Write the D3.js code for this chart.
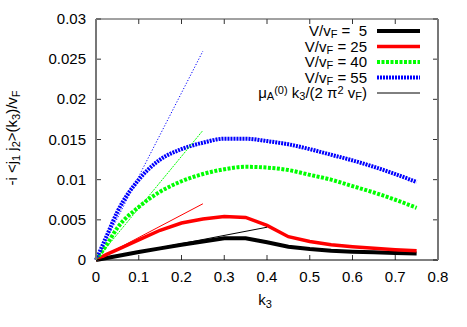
<!DOCTYPE html>
<html><head><meta charset="utf-8">
<script src="https://cdn.jsdelivr.net/npm/d3@7"></script>
<style>body{margin:0;background:#fff}svg text{font-family:"Liberation Sans",Arial,sans-serif;font-size:15px;fill:#000;white-space:pre}</style>
</head><body>
<svg id="c" width="467" height="327"></svg>
<script>
const kValues = [0,0.025,0.05,0.1,0.15,0.2,0.25,0.3,0.35,0.4,0.45,0.5,0.55,0.6,0.65,0.7,0.75];
const v5  = [0,0.00025,0.0005,0.0010,0.00145,0.0019,0.0023,0.0027,0.0027,0.0022,0.00165,0.00136,0.00116,0.00103,0.00095,0.00087,0.0008];
const v25 = [0,0.0007,0.0013,0.0025,0.0037,0.0046,0.0051,0.0054,0.0053,0.0043,0.0029,0.0023,0.0019,0.00165,0.00145,0.00128,0.00115];
const v40 = [0,0.0019,0.0040,0.0066,0.0085,0.0098,0.0107,0.0113,0.0116,0.0115,0.0112,0.0106,0.0100,0.0092,0.0084,0.0075,0.0065];
const v55 = [0,0.0030,0.0060,0.0100,0.0125,0.0138,0.0146,0.0151,0.0151,0.0148,0.0144,0.0138,0.0131,0.0124,0.0116,0.0107,0.0097];
const slopes = [0.0102,0.028,0.0645,0.104];
const slopeEnds = [0.4,0.25,0.25,0.25];
const xTicks = [0,0.1,0.2,0.3,0.4,0.5,0.6,0.7,0.8];
const yTicks = [0,0.005,0.01,0.015,0.02,0.025,0.03];
const yTickLabels = ["0","0.005","0.01","0.015","0.02","0.025","0.03"];

const svg = d3.select("#c");
const L=96,R=438,T=19,B=260;
const x = d3.scaleLinear().domain([0,0.8]).range([L,R]);
const y = d3.scaleLinear().domain([0,0.03]).range([B,T]);

const g = svg.append("g");
xTicks.forEach(t=>{
  g.append("line").attr("x1",x(t)).attr("x2",x(t)).attr("y1",B).attr("y2",B-5).attr("stroke","#333");
  g.append("line").attr("x1",x(t)).attr("x2",x(t)).attr("y1",T).attr("y2",T+5).attr("stroke","#333");
  g.append("text").attr("x",x(t)).attr("y",B+22).attr("text-anchor","middle").text(String(t));
});
yTicks.forEach((t,i)=>{
  g.append("line").attr("x1",L).attr("x2",L+5).attr("y1",y(t)).attr("y2",y(t)).attr("stroke","#333");
  g.append("line").attr("x1",R).attr("x2",R-5).attr("y1",y(t)).attr("y2",y(t)).attr("stroke","#333");
  g.append("text").attr("x",L-10).attr("y",y(t)+5).attr("text-anchor","end").text(yTickLabels[i]);
});

const series = [
  {v:v5, color:"#000", w:4, dash:null, curve:d3.curveLinear},
  {v:v25, color:"#f00", w:3.5, dash:null, curve:d3.curveLinear},
  {v:v40, color:"#0f0", w:4, dash:"3,1.5", curve:d3.curveMonotoneX},
  {v:v55, color:"#00f", w:4, dash:"2,1", curve:d3.curveMonotoneX}
];
const thin = [
  {color:"#000", dash:null},
  {color:"#f00", dash:null},
  {color:"#0f0", dash:"2,1"},
  {color:"#00f", dash:"1.2,1.8"}
];
series.forEach((s,i)=>{
  const line = d3.line().x((d,j)=>x(kValues[j])).y(d=>y(d)).curve(s.curve);
  svg.append("path").attr("d",line(s.v)).attr("fill","none").attr("stroke",s.color)
    .attr("stroke-width",s.w).attr("stroke-dasharray",s.dash);
});
thin.forEach((s,i)=>{
  svg.append("line").attr("x1",x(0)).attr("y1",y(0)).attr("x2",x(slopeEnds[i])).attr("y2",y(slopes[i]*slopeEnds[i]))
    .attr("stroke",s.color).attr("stroke-width",1).attr("stroke-dasharray",s.dash);
});

svg.append("line").attr("x1",L).attr("x2",R).attr("y1",B).attr("y2",B).attr("stroke","#000");
svg.append("line").attr("x1",L).attr("x2",R).attr("y1",T).attr("y2",T).attr("stroke","#444");
svg.append("line").attr("x1",L).attr("x2",L).attr("y1",T).attr("y2",B).attr("stroke","#777").attr("stroke-width",2);
svg.append("line").attr("x1",R).attr("x2",R).attr("y1",T).attr("y2",B).attr("stroke","#777").attr("stroke-width",2);

const leg = [
  {c:"#000",w:4,dash:null,parts:[["V/v",0],["F",1],[" =  5",0]]},
  {c:"#f00",w:3.5,dash:null,parts:[["V/v",0],["F",1],[" = 25",0]]},
  {c:"#0f0",w:4,dash:"3,1.5",parts:[["V/v",0],["F",1],[" = 40",0]]},
  {c:"#00f",w:4,dash:"2,1",parts:[["V/v",0],["F",1],[" = 55",0]]},
  {c:"#000",w:1,dash:null,parts:[["μ",0],["A",1],["(0)",-1],[" k",0],["3",1],["/(2 π",0],["2",-1],[" v",0],["F",1],[")",0]]}
];
const legY=[31,46.5,62,77.5,93];
leg.forEach((l,i)=>{
  svg.append("line").attr("x1",377).attr("x2",420).attr("y1",legY[i]).attr("y2",legY[i])
    .attr("stroke",l.c).attr("stroke-width",l.w).attr("stroke-dasharray",l.dash);
  const t = svg.append("text").attr("x",367).attr("y",legY[i]+5).attr("text-anchor","end");
  l.parts.forEach(p=>{
    const ts=t.append("tspan").text(p[0]);
    if(p[1]===1) ts.attr("baseline-shift","-20%").attr("font-size","11px");
    if(p[1]===-1) ts.attr("baseline-shift","35%").attr("font-size","11px");
  });
});

const xl = svg.append("text").attr("x",265).attr("y",305).attr("text-anchor","middle");
xl.append("tspan").text("k");
xl.append("tspan").attr("baseline-shift","-25%").attr("font-size","11px").text("3");
const yl = svg.append("text").attr("transform","translate(17,138) rotate(-90)").attr("text-anchor","middle");
[["-i <j",0],["1",1],[" j",0],["2",1],[">(k",0],["3",1],[")/v",0],["F",1]].forEach(p=>{
  const ts=yl.append("tspan").text(p[0]);
  if(p[1]===1) ts.attr("baseline-shift","-25%").attr("font-size","11px");
});
</script>
</body></html>
